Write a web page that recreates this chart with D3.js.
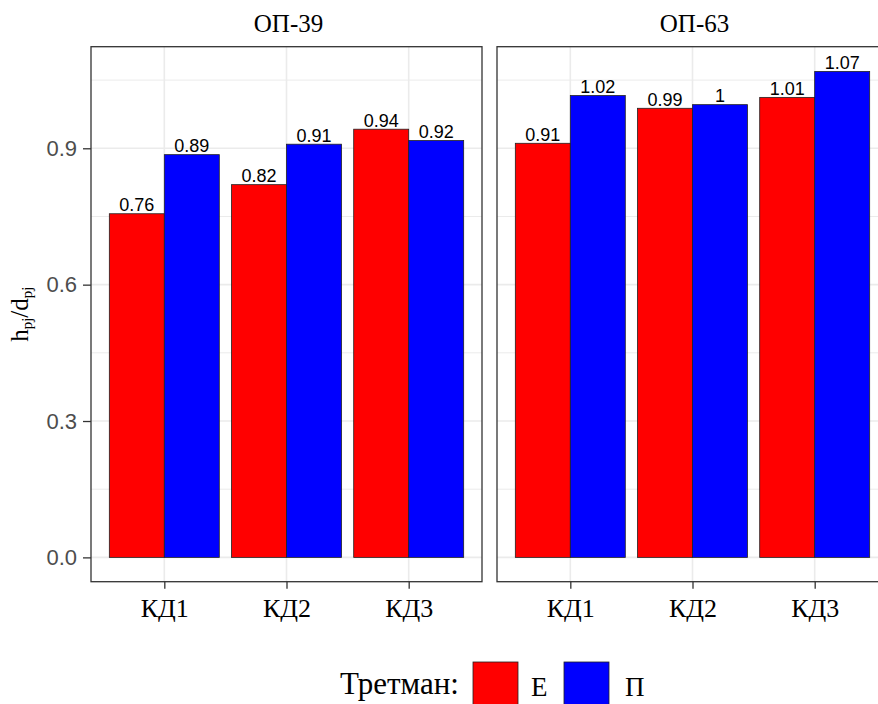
<!DOCTYPE html>
<html>
<head>
<meta charset="utf-8">
<script src="https://cdn.jsdelivr.net/npm/d3@7"></script>
<style>
  body { margin: 0; background: #fff; }
  svg { display: block; }
</style>
</head>
<body>
<svg id="chart" width="878" height="704"></svg>
<script>
// ---- data ----
const panels = ["ОП-39", "ОП-63"];
const categories = ["КД1", "КД2", "КД3"];
const groups = ["Е", "П"];
const valuesE_OP39 = [0.756, 0.820, 0.942];
const valuesP_OP39 = [0.886, 0.909, 0.917];
const valuesE_OP63 = [0.911, 0.988, 1.012];
const valuesP_OP63 = [1.016, 0.996, 1.069];
const yTicks = [0.0, 0.3, 0.6, 0.9];
const yMinorTicks = [0.15, 0.45, 0.75, 1.05];
const colors = ["#FF0000", "#0000FF"];
const legendTitle = "Третман:";

const panelData = [
  { name: panels[0], series: [valuesE_OP39, valuesP_OP39] },
  { name: panels[1], series: [valuesE_OP63, valuesP_OP63] }
];

const svg = d3.select("#chart");

const pTop = 46.7, pBottom = 581.7;
const panelX = [[91, 482], [497, 888]];
const dataMax = 1.07;
const expand = dataMax * 0.05;
const y = d3.scaleLinear().domain([-expand, dataMax + expand]).range([pBottom, pTop]);

const fmt = v => String(+v.toFixed(2));

panelData.forEach((p, pi) => {
  const [x0, x1] = panelX[pi];
  const x = d3.scalePoint().domain(categories).range([x0, x1]).padding(0.6);
  const step = x.step();
  const barW = step * 0.9;
  const sub = d3.scaleBand().domain(groups).range([-barW / 2, barW / 2]).padding(0);

  const g = svg.append("g");
  g.append("rect").attr("x", x0).attr("y", pTop).attr("width", x1 - x0).attr("height", pBottom - pTop)
    .attr("fill", "#fff");
  g.selectAll(".ymin").data(yMinorTicks).join("line")
    .attr("x1", x0).attr("x2", x1).attr("y1", d => y(d)).attr("y2", d => y(d))
    .attr("stroke", "#EBEBEB").attr("stroke-width", 1);
  g.selectAll(".ymaj").data(yTicks).join("line")
    .attr("x1", x0).attr("x2", x1).attr("y1", d => y(d)).attr("y2", d => y(d))
    .attr("stroke", "#EBEBEB").attr("stroke-width", 1.6);
  g.selectAll(".xmaj").data(categories).join("line")
    .attr("x1", d => x(d)).attr("x2", d => x(d)).attr("y1", pTop).attr("y2", pBottom)
    .attr("stroke", "#EBEBEB").attr("stroke-width", 1.6);

  p.series.forEach((vals, si) => {
    g.selectAll(".bar" + si).data(categories).join("rect")
      .attr("x", (d, i) => x(d) + sub(groups[si]))
      .attr("y", (d, i) => y(vals[i]))
      .attr("width", sub.bandwidth())
      .attr("height", (d, i) => y(0) - y(vals[i]))
      .attr("fill", colors[si])
      .attr("stroke", "#222").attr("stroke-width", 0.8);
    g.selectAll(".lab" + si).data(categories).join("text")
      .attr("x", (d, i) => x(d) + sub(groups[si]) + sub.bandwidth() / 2)
      .attr("y", (d, i) => y(vals[i]) - 2.5)
      .attr("text-anchor", "middle")
      .attr("font-family", "Liberation Sans, Arial, sans-serif")
      .attr("font-size", 18)
      .attr("fill", "#000")
      .text((d, i) => fmt(vals[i]));
  });

  g.append("rect").attr("x", x0).attr("y", pTop).attr("width", x1 - x0).attr("height", pBottom - pTop)
    .attr("fill", "none").attr("stroke", "#333").attr("stroke-width", 1.3);

  g.append("text").attr("x", (x0 + x1) / 2 + 2).attr("y", 31.5)
    .attr("text-anchor", "middle")
    .attr("font-family", "Liberation Serif, Times New Roman, serif")
    .attr("font-size", 25).attr("fill", "#000").text(p.name);

  const xAxis = d3.axisBottom(x).tickSize(7).tickPadding(5);
  const xa = g.append("g").attr("transform", `translate(0,${pBottom})`).call(xAxis);
  xa.select(".domain").remove();
  xa.selectAll(".tick line").attr("stroke", "#333").attr("stroke-width", 1.3);
  xa.selectAll(".tick text")
    .attr("font-family", "Liberation Serif, Times New Roman, serif")
    .attr("font-size", 26).attr("fill", "#000").attr("dy", "0.9em");

  if (pi === 0) {
    const yAxis = d3.axisLeft(y).tickValues(yTicks).tickFormat(d3.format(".1f")).tickSize(8).tickPadding(6);
    const ya = g.append("g").attr("transform", `translate(${x0},0)`).call(yAxis);
    ya.select(".domain").remove();
    ya.selectAll(".tick line").attr("stroke", "#333").attr("stroke-width", 1.3);
    ya.selectAll(".tick text")
      .attr("font-family", "Liberation Sans, Arial, sans-serif")
      .attr("font-size", 22).attr("fill", "#4D4D4D");
  }
});

const yt = svg.append("text")
  .attr("transform", `translate(28,${(pTop + pBottom) / 2}) rotate(-90)`)
  .attr("text-anchor", "middle")
  .attr("font-family", "Liberation Serif, Times New Roman, serif")
  .attr("font-size", 25).attr("fill", "#000");
yt.append("tspan").text("h");
yt.append("tspan").attr("font-size", 15).attr("dy", 4).text("pj");
yt.append("tspan").attr("dy", -4).text("/d");
yt.append("tspan").attr("font-size", 15).attr("dy", 4).text("pj");

const lg = svg.append("g");
lg.append("text").attr("x", 340).attr("y", 694)
  .attr("font-family", "Liberation Serif, Times New Roman, serif")
  .attr("font-size", 31).attr("fill", "#000").text(legendTitle);
const keyX = [473, 564];
const labX = [531, 625];
groups.forEach((gname, i) => {
  lg.append("rect").attr("x", keyX[i]).attr("y", 662).attr("width", 45).attr("height", 45)
    .attr("fill", colors[i]).attr("stroke", "#222").attr("stroke-width", 0.8);
  lg.append("text").attr("x", labX[i]).attr("y", 696)
    .attr("font-family", "Liberation Serif, Times New Roman, serif")
    .attr("font-size", 27).attr("fill", "#000").text(gname);
});
</script>
</body>
</html>
